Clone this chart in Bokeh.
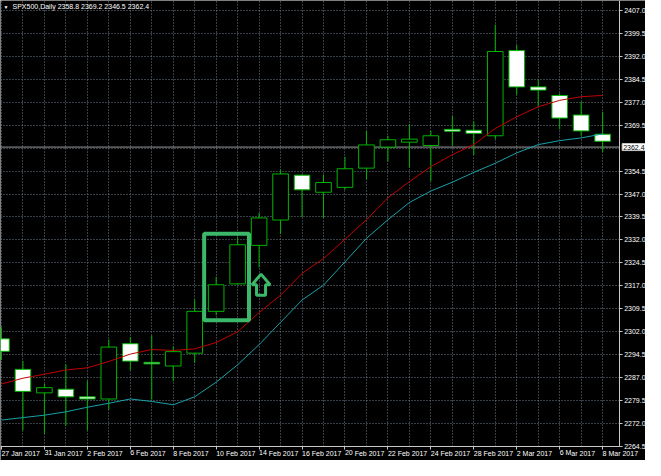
from bokeh.plotting import figure
from bokeh.models import FixedTicker, NumeralTickFormatter, Range1d, Label, ColumnDataSource
from bokeh.embed import file_html
from bokeh.resources import INLINE

# ---------------- data ----------------
dates = ["27 Jan 2017", "30 Jan 2017", "31 Jan 2017", "1 Feb 2017", "2 Feb 2017", "3 Feb 2017",
         "6 Feb 2017", "7 Feb 2017", "8 Feb 2017", "9 Feb 2017", "10 Feb 2017", "13 Feb 2017",
         "14 Feb 2017", "15 Feb 2017", "16 Feb 2017", "17 Feb 2017", "20 Feb 2017", "21 Feb 2017",
         "22 Feb 2017", "23 Feb 2017", "24 Feb 2017", "27 Feb 2017", "28 Feb 2017", "1 Mar 2017",
         "2 Mar 2017", "3 Mar 2017", "6 Mar 2017", "7 Mar 2017", "8 Mar 2017"]
opens = [2299.6, 2289.6, 2281.9, 2283.1, 2280.6, 2279.9, 2298.0, 2291.9, 2290.7, 2294.9,
         2308.6, 2317.6, 2330.2, 2338.5, 2353.2, 2347.6, 2349.2, 2355.5, 2362.4, 2364.0,
         2362.9, 2368.2, 2367.9, 2366.1, 2394.0, 2382.1, 2379.3, 2372.9, 2366.6]
highs = [2303.4, 2292.3, 2284.8, 2291.2, 2285.9, 2299.4, 2300.2, 2300.7, 2297.1, 2312.5,
         2319.9, 2332.9, 2340.8, 2355.0, 2353.5, 2353.4, 2359.2, 2367.7, 2366.1, 2369.8,
         2367.7, 2372.6, 2370.8, 2402.5, 2395.8, 2384.5, 2380.0, 2377.2, 2374.0]
lows = [2292.7, 2269.6, 2268.5, 2271.1, 2269.6, 2276.4, 2289.3, 2279.7, 2285.7, 2291.7,
        2307.3, 2317.3, 2323.0, 2333.9, 2339.5, 2339.2, 2348.4, 2351.8, 2357.6, 2355.7,
        2351.2, 2362.9, 2359.8, 2365.0, 2379.6, 2375.6, 2368.2, 2366.1, 2360.8]
closes = [2295.5, 2282.4, 2283.6, 2280.6, 2279.9, 2296.9, 2292.3, 2291.4, 2295.4, 2308.6,
          2317.3, 2330.4, 2339.2, 2353.6, 2348.4, 2350.8, 2355.3, 2363.1, 2364.8, 2365.0,
          2366.1, 2367.6, 2366.9, 2393.7, 2382.1, 2381.05, 2371.9, 2367.7, 2364.3]
ma_red = [2284.8, 2286.7, 2288.0, 2289.4, 2290.1, 2292.2, 2294.6, 2296.1, 2295.8, 2296.3,
          2298.4, 2301.9, 2308.2, 2313.9, 2321.0, 2325.9, 2332.2, 2338.6, 2345.8, 2351.1,
          2356.0, 2359.9, 2363.2, 2368.5, 2372.3, 2375.6, 2377.7, 2378.9, 2379.3]
ma_cyan = [2273.0, 2273.8, 2274.6, 2275.7, 2277.2, 2278.5, 2279.9, 2279.1, 2278.0, 2280.6,
           2285.4, 2291.1, 2297.7, 2305.0, 2312.3, 2317.2, 2324.8, 2332.5, 2338.6, 2344.25,
           2348.0, 2350.9, 2354.1, 2357.1, 2360.5, 2363.2, 2364.5, 2365.4, 2366.7]
price_ticks = [2264.5, 2272.0, 2279.5, 2287.0, 2294.5, 2302.0, 2309.5, 2317.0, 2324.5, 2332.0,
               2339.5, 2347.0, 2354.5, 2362.0, 2369.5, 2377.0, 2384.5, 2392.0, 2399.5, 2407.0]
bid_price = 2362.4
title_text = "SPX500,Daily  2358.8 2369.2 2346.5 2362.4"
# highlight box (bar index / price) and arrow
box_left, box_right, box_top, box_bottom = 9.44, 11.53, 2334.0, 2305.7
arrow_x, arrow_top, arrow_head_base, arrow_bottom = 12.09, 2320.8, 2317.3, 2313.9
arrow_head_half, arrow_shaft_half = 0.42, 0.21

# ---------------- styling ----------------
GREEN = "#00b400"
FONT = "Liberation Sans"
AXIS = "#c8c8c8"
X0, X1 = -0.045, 28.77               # chart area (bar index) up to the price axis
X_END = X0 + (X1 - X0) * 661 / 634     # room for price labels inside the frame
Y0, Y1 = 2264.5, 2410.4               # chart area (price) down to the time axis
Y_START = Y0 - (Y1 - Y0) * 15 / 461    # room for date labels inside the frame
n = len(dates)
idx = list(range(n))

src = ColumnDataSource(dict(
    x=idx, high=highs, low=lows,
    top=[max(o, c) for o, c in zip(opens, closes)],
    bottom=[min(o, c) for o, c in zip(opens, closes)],
    fill=["#ffffff" if c < o else "#000000" for o, c in zip(opens, closes)],
))

p = figure(width=645, height=460, output_backend="svg", toolbar_location=None,
           x_range=Range1d(X0, X_END), y_range=Range1d(Y_START, Y1),
           y_axis_location="right", min_border_left=0, min_border_top=0,
           min_border_right=0, min_border_bottom=0)
p.background_fill_color = "black"
p.border_fill_color = "black"
p.outline_line_color = None

# grids (dotted), limited to the chart area
p.xgrid.ticker = FixedTicker(ticks=idx)
p.ygrid.ticker = FixedTicker(ticks=price_ticks)
for g in (p.xgrid, p.ygrid):
    g.grid_line_color = "#6f7d8c"
    g.grid_line_dash = "1 2"
    g.grid_line_width = 1
xg, yg = p.xgrid[0], p.ygrid[0]
if "cross_bounds" in yg.properties():
    yg.cross_bounds = (X0, X1)
    xg.cross_bounds = (Y0, Y1)

# axes (placed at the chart-area edges)
xa = p.xaxis[0]
xa.fixed_location = Y0
xa.bounds = (X0, X1)
xa.ticker = FixedTicker(ticks=idx[::2])
xa.major_label_overrides = {i: dates[i] for i in idx[::2]}
xa.major_label_orientation = -1e-6
xa.major_label_standoff = 4
ya = p.yaxis[0]
ya.fixed_location = X1
ya.bounds = (Y0, Y1)
ya.ticker = FixedTicker(ticks=[t for t in price_ticks if abs(t - bid_price) > 1])
ya.formatter = NumeralTickFormatter(format="0.0")
ya.major_label_standoff = 2
for a in (xa, ya):
    a.axis_line_color = AXIS
    a.major_tick_line_color = AXIS
    a.major_tick_out = 3
    a.major_tick_in = 0
    a.minor_tick_line_color = None
    a.major_label_text_color = "white"
    a.major_label_text_font = FONT
    a.major_label_text_font_size = "7px"

# bid line
p.segment(x0=[X0], y0=[bid_price], x1=[X1], y1=[bid_price], line_color="#9a9a9a", line_width=1)

# candles
p.segment(x0="x", y0="high", x1="x", y1="low", source=src, line_color=GREEN, line_width=1)
p.vbar(x="x", width=0.727, top="top", bottom="bottom", source=src,
       fill_color="fill", line_color=GREEN, line_width=1)

# moving averages
p.line(idx, ma_red, line_color="#c00000", line_width=1)
p.line(idx, ma_cyan, line_color="#1aa0a8", line_width=1)

# highlight box + arrow
HL = "#3cb86a"
p.quad(left=[box_left], right=[box_right], top=[box_top], bottom=[box_bottom],
       fill_color=None, line_color=HL, line_width=4)
ax = [arrow_x, arrow_x + arrow_head_half, arrow_x + arrow_shaft_half, arrow_x + arrow_shaft_half,
      arrow_x - arrow_shaft_half, arrow_x - arrow_shaft_half, arrow_x - arrow_head_half]
ay = [arrow_top, arrow_head_base, arrow_head_base, arrow_bottom, arrow_bottom, arrow_head_base,
      arrow_head_base]
p.patch(ax, ay, fill_color=None, line_color=HL, line_width=3)

# title
p.add_layout(Label(x=X0, y=Y1, x_offset=3, y_offset=-3, text="\u25bc", text_color="white",
                   text_font=FONT, text_font_size="5px", text_baseline="top"))
p.add_layout(Label(x=X0, y=Y1, x_offset=12, y_offset=-2, text=title_text, text_color="white",
                   text_font=FONT, text_font_size="7px", text_baseline="top"))
# bid price tag
p.add_layout(Label(x=X1, y=bid_price, x_offset=3, text="2362.4", text_color="black",
                   text_font=FONT, text_font_size="7px", text_baseline="middle",
                   background_fill_color="white", border_line_color=AXIS, padding=1))

open("out.html", "w").write(file_html(p, INLINE))
